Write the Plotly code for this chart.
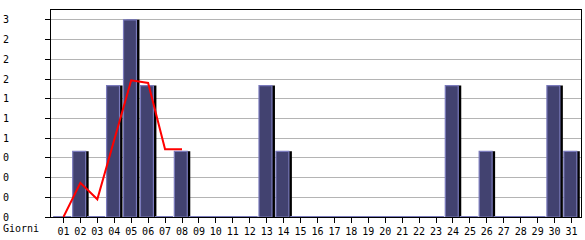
import plotly.graph_objects as go

days = [f"{d:02d}" for d in range(1, 32)]
day_num = list(range(1, 32))
counts = [0, 1, 0, 2, 3, 2, 0, 1, 0, 0, 0, 0, 2, 1, 0, 0, 0, 0, 0, 0,
          0, 0, 0, 2, 0, 1, 0, 0, 0, 2, 1]
trend_days = [1, 2, 3, 4, 5, 6, 7, 8]
trend_vals = [0.0, 0.52, 0.27, 1.17, 2.08, 2.04, 1.03, 1.03]
ytick_vals = [0, 0.3, 0.6, 0.9, 1.2, 1.5, 1.8, 2.1, 2.4, 2.7, 3.0]
ytick_text = ["0", "0", "0", "0", "1", "1", "1", "2", "2", "2", "3"]

FONT = "DejaVu Sans Mono"
BAR_W = 0.765
BAR_OFF = -0.453

fig = go.Figure()
# shadow bars
fig.add_trace(go.Bar(
    x=day_num, y=counts, width=BAR_W, offset=-0.276,
    marker=dict(color="#000000", line=dict(width=0)),
    hoverinfo="skip", showlegend=False))
# main bars
fig.add_trace(go.Bar(
    x=day_num, y=counts, width=BAR_W, offset=BAR_OFF,
    marker=dict(color="#424270", line=dict(color="#7a7abc", width=1.2)),
    showlegend=False))
# flat marks for zero-valued days
zero_x = [d + BAR_OFF + BAR_W / 2 for d, c in zip(day_num, counts) if c == 0]
zero_y = [c for c in counts if c == 0]
fig.add_trace(go.Scatter(
    x=zero_x, y=zero_y, mode="markers", cliponaxis=False,
    marker=dict(symbol="line-ew", size=13, color="#7a7abc",
                line=dict(color="#7a7abc", width=2)),
    hoverinfo="skip", showlegend=False))
# trend line
fig.add_trace(go.Scatter(
    x=trend_days, y=trend_vals, mode="lines",
    line=dict(color="#ff0000", width=2), showlegend=False))

fig.update_layout(
    width=585, height=240,
    margin=dict(l=50, r=3, t=10, b=20),
    paper_bgcolor="white", plot_bgcolor="white",
    barmode="overlay",
    font=dict(family=FONT, size=10, color="#000000"),
    xaxis=dict(
        range=[0.265, 31.56], tickmode="array", tickvals=day_num, ticktext=days,
        ticks="outside", ticklen=5, tickcolor="#000000", tickwidth=1,
        showgrid=False, zeroline=False,
        showline=True, linecolor="#000000", linewidth=1, mirror=True,
        tickfont=dict(family=FONT, size=10, color="#000000"),
    ),
    yaxis=dict(
        range=[0, 3.15], tickmode="array", tickvals=ytick_vals, ticktext=ytick_text,
        ticks="outside", ticklen=5, tickcolor="#000000", tickwidth=1,
        showgrid=True, gridcolor="#b4b4b4", gridwidth=1, zeroline=False,
        showline=True, linecolor="#000000", linewidth=1, mirror=True,
        ticklabelstandoff=34,
        tickfont=dict(family=FONT, size=10, color="#000000"),
    ),
    annotations=[dict(
        text="Giorni", xref="paper", yref="paper", x=-50/532, y=-12/210,
        xanchor="left", yanchor="middle", showarrow=False,
        font=dict(family=FONT, size=10, color="#000000"),
    )],
)

fig.write_html("out.html")
